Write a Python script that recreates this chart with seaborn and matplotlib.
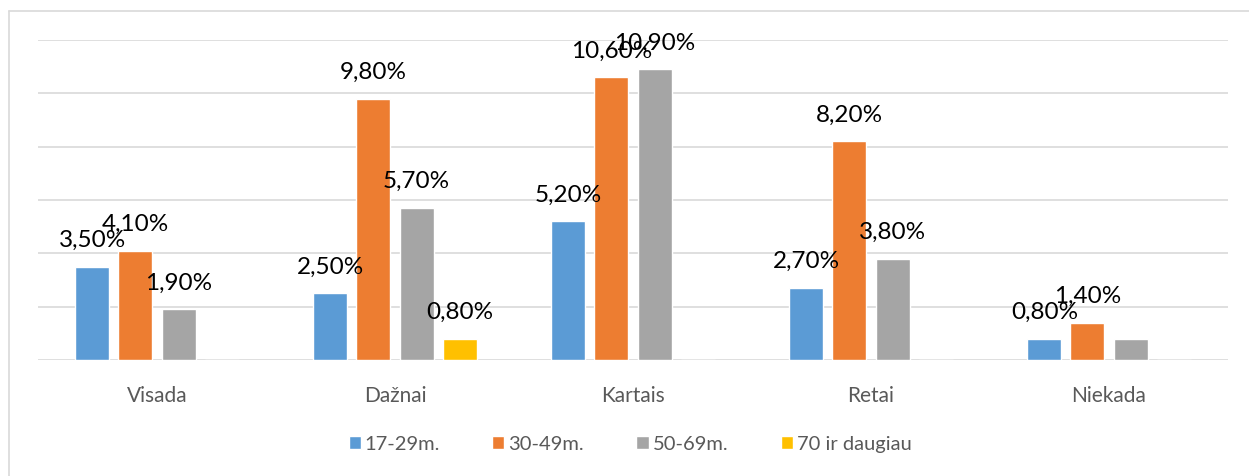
"""Grouped bar chart: how often respondents do it, by age group."""

import matplotlib
matplotlib.use("Agg")
import matplotlib.pyplot as plt
import pandas as pd
import seaborn as sns
from matplotlib.lines import Line2D

CATEGORIES = ["Visada", "Dažnai", "Kartais", "Retai", "Niekada"]
AGE_GROUPS = ["17-29m.", "30-49m.", "50-69m.", "70 ir daugiau"]
VALUES_17_29 = [3.5, 2.5, 5.2, 2.7, 0.8]
VALUES_30_49 = [4.1, 9.8, 10.6, 8.2, 1.4]
VALUES_50_69 = [1.9, 5.7, 10.9, 3.8, 0.8]
VALUES_70_PLUS = [0.0, 0.8, 0.0, 0.0, 0.0]
# which bars carry a value label in the original
SHOW_LABEL = [
    [True, True, True, True, True],
    [True, True, True, True, True],
    [True, True, True, True, False],
    [False, True, False, False, False],
]
COLORS = ["#5B9BD5", "#ED7D31", "#A5A5A5", "#FFC000"]

sns.set_style("white")
plt.rcParams["font.family"] = ["Lato", "DejaVu Sans"]

rows = []
for group, values in zip(AGE_GROUPS, [VALUES_17_29, VALUES_30_49, VALUES_50_69, VALUES_70_PLUS]):
    for cat, val in zip(CATEGORIES, values):
        rows.append({"category": cat, "group": group, "value": val})
df = pd.DataFrame(rows)

fig = plt.figure(figsize=(12.49, 4.77), dpi=100)
ax = fig.add_axes([38 / 1249, 1 - 361 / 477, 1190 / 1249, 320 / 477])

sns.barplot(
    data=df, x="category", y="value", hue="group", order=CATEGORIES, hue_order=AGE_GROUPS,
    palette=COLORS, width=0.723, gap=0.21, errorbar=None, saturation=1, ax=ax,
)

for container, values, shown in zip(ax.containers, [VALUES_17_29, VALUES_30_49, VALUES_50_69, VALUES_70_PLUS], SHOW_LABEL):
    labels = [f"{v:.2f}%".replace(".", ",") if s else "" for v, s in zip(values, shown)]
    ax.bar_label(container, labels=labels, padding=12, fontsize=17.5, color="black")

ax.set_xlim(-0.5, 4.5)
ax.set_ylim(0, 12)
ax.set_yticks(range(0, 13, 2))
ax.set_yticklabels([])
ax.yaxis.grid(True, color="#D9D9D9", linewidth=1.2)
ax.set_axisbelow(True)
ax.tick_params(axis="both", length=0)
ax.tick_params(axis="x", labelsize=15, labelcolor="#595959", pad=18)
ax.set_xlabel("")
ax.set_ylabel("")
for spine in ax.spines.values():
    spine.set_visible(False)

handles, labels = ax.get_legend_handles_labels()
ax.get_legend().remove()
fig.legend(
    handles, labels, loc="center", bbox_to_anchor=(630 / 1249, 32 / 477), ncol=4, frameon=False,
    fontsize=14.5, labelcolor="#595959", handlelength=0.6, handleheight=0.6,
    handletextpad=0.2, columnspacing=2.6,
)

# outer chart border (left and top edges visible in the crop)
fig.add_artist(Line2D([9 / 1249, 9 / 1249], [0, 1 - 12 / 477], color="#D9D9D9", linewidth=1.2))
fig.add_artist(Line2D([9 / 1249, 1], [1 - 12 / 477, 1 - 12 / 477], color="#D9D9D9", linewidth=1.2))

fig.savefig("out.png", dpi=100)
